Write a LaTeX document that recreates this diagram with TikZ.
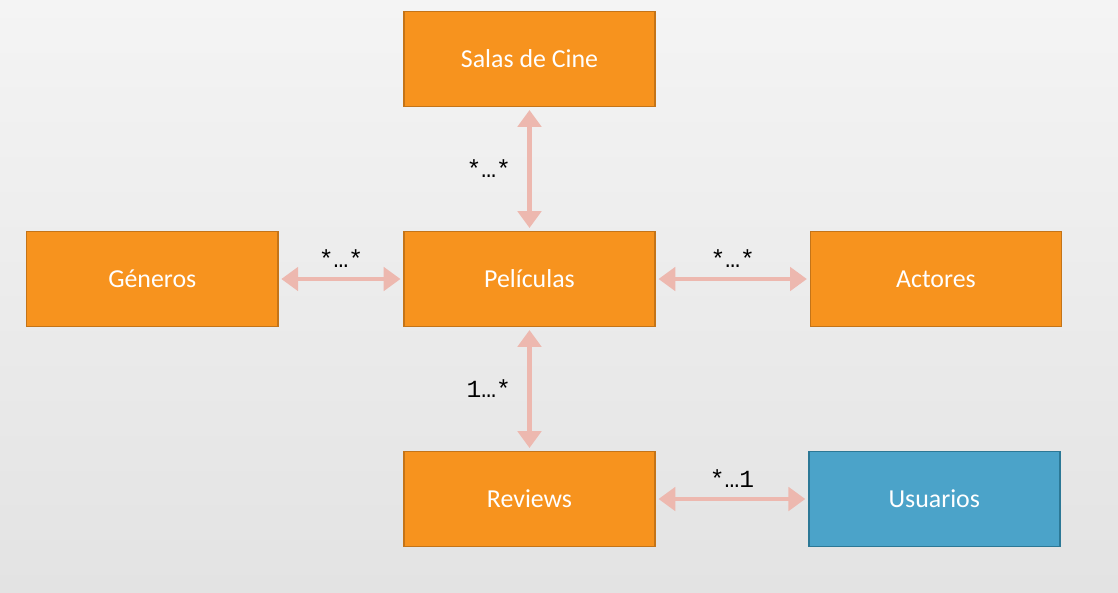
\documentclass[tikz,border=0pt]{standalone}
\usepackage{fontspec}
\setmainfont{Carlito}
\newfontfamily\labelfont{Liberation Mono}
\usetikzlibrary{positioning, arrows.meta, calc}

\definecolor{tabla}{HTML}{F7931E}
\definecolor{tablaborde}{HTML}{C47418}
\definecolor{usuario}{HTML}{4BA3C9}
\definecolor{usuarioborde}{HTML}{2C7896}
\definecolor{colorflecha}{HTML}{EDB8AF}
\definecolor{fondoarriba}{HTML}{F4F4F4}
\definecolor{fondoabajo}{HTML}{E3E3E3}

\tikzset{
    entidad/.style={draw=tablaborde, fill=tabla, line width=1pt,
        minimum width=6.275cm, minimum height=2.375cm,
        text=white, font=\fontsize{18.4}{22}\selectfont},
    externa/.style={entidad, draw=usuarioborde, fill=usuario},
    relacion/.style={color=colorflecha, line width=3.3pt,
        {Triangle[width=0.58cm,length=0.42cm,fill=colorflecha]}-{Triangle[width=0.58cm,length=0.42cm,fill=colorflecha]},
        shorten >=2pt, shorten <=2pt},
    cardinalidad/.style={text=black, inner sep=3pt,
        font=\labelfont\fontsize{17.5}{20}\selectfont}
}

\begin{document}
\begin{tikzpicture}[node distance=5.5cm,on grid]
    \useasboundingbox (-13.2375,6.975) rectangle (14.7125,-7.825);
    \shade[top color=fondoarriba, bottom color=fondoabajo]
        (-13.2375,6.975) rectangle (14.7125,-7.825);

    \node[entidad] (peliculas) {Películas};
    \node[entidad] (salas) [above=of peliculas] {Salas de Cine};
    \node[entidad] (generos) [left=9.43cm of peliculas] {Géneros};
    \node[entidad] (actores) [right=10.16cm of peliculas] {Actores};
    \node[entidad] (reviews) [below=of peliculas] {Reviews};
    \node[externa] (usuarios) [right=10.12cm of reviews] {Usuarios};

    \path[relacion]
    (salas) edge node [cardinalidad, left=0.3cm] {*…*} (peliculas)
    (generos) edge node [cardinalidad, above=0.12cm] {*…*} (peliculas)
    (peliculas) edge node [cardinalidad, above=0.12cm] {*…*} (actores)
    (peliculas) edge node [cardinalidad, left=0.3cm] {1…*} (reviews)
    (reviews) edge node [cardinalidad, above=0.12cm] {*…1} (usuarios)
    ;
\end{tikzpicture}
\end{document}
